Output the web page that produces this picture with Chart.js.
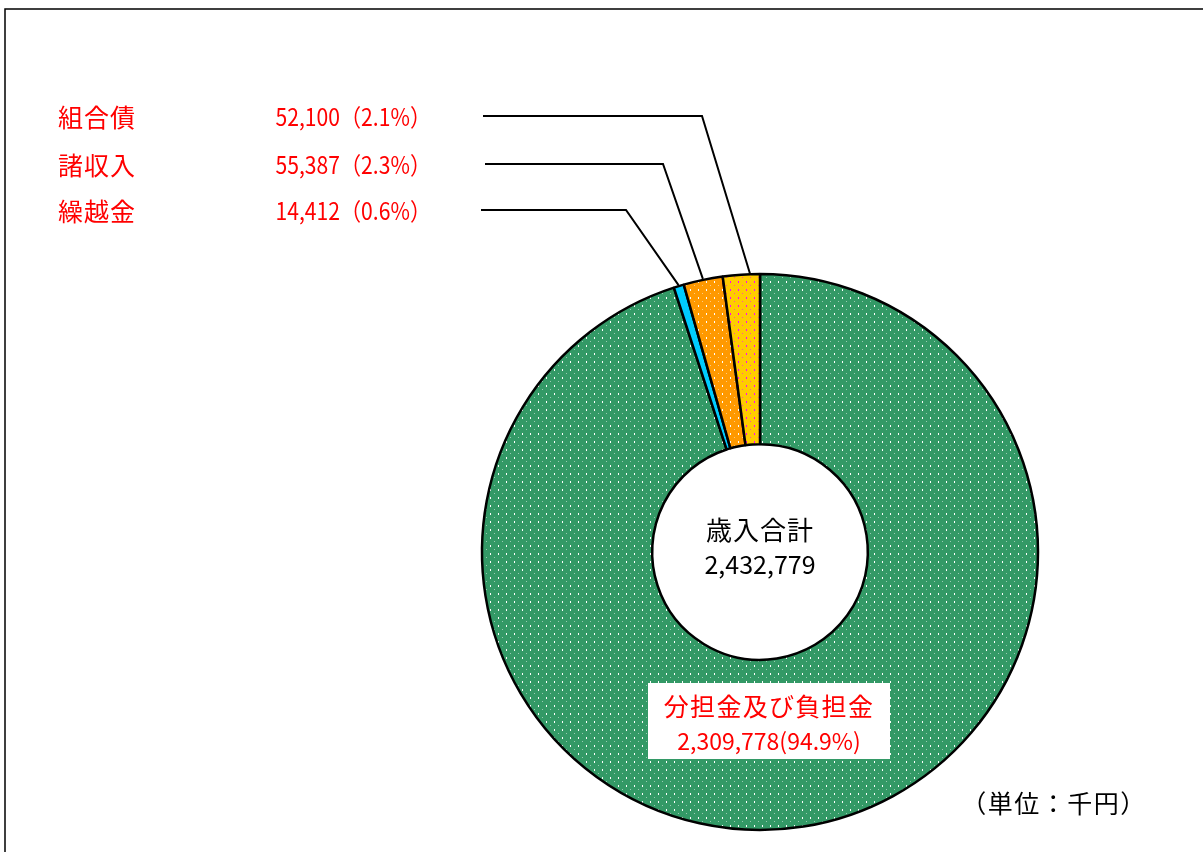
<!DOCTYPE html>
<html>
<head>
<meta charset="utf-8">
<script src="https://cdn.jsdelivr.net/npm/chart.js@4"></script>
<style>
  body { margin: 0; background: #fff; }
  canvas { display: block; }
</style>
</head>
<body>
<canvas id="revenueChart" width="1203" height="852"></canvas>
<script>
// data (千円)
const categories = ["分担金及び負担金", "繰越金", "諸収入", "組合債"];
const amounts = [2309778, 14412, 55387, 52100];
const shares = ["94.9", "0.6", "2.3", "2.1"];
const totalLabel = "歳入合計";
const totalAmount = 2432779;
const unitLabel = "（単位：千円）";

const JP = '"Noto Sans CJK JP", "Noto Sans", sans-serif';

const canvas = document.getElementById("revenueChart");
const ctx = canvas.getContext("2d");

// small dotted fills like the original spreadsheet patterns
const makePattern = (bg, dot, faint) => {
  const tile = document.createElement("canvas");
  tile.width = 8;
  tile.height = 8;
  const g = tile.getContext("2d");
  g.fillStyle = bg;
  g.fillRect(0, 0, 8, 8);
  if (dot) {
    g.fillStyle = dot;
    g.fillRect(2, 1, 1, 2);
    g.globalAlpha = faint;
    g.fillRect(6, 5, 1, 1);
  }
  return ctx.createPattern(tile, "repeat");
};

const fills = [
  makePattern("#339966", "#ffffff", 0.5),
  makePattern("#00ccff", null, 0),
  makePattern("#ff9900", "#ffffff", 0.5),
  makePattern("#ffcc00", "#ff00ff", 0.6)
];

const fmt = n => n.toLocaleString("en-US");

// compressed text helper (original uses a narrow gothic)
const drawText = (text, x, y, font, color, align, sx = 1, spacing = "0px") => {
  ctx.save();
  ctx.font = font;
  ctx.letterSpacing = spacing;
  ctx.fillStyle = color;
  ctx.textAlign = align;
  ctx.textBaseline = "middle";
  ctx.translate(x, y);
  ctx.scale(sx, 1);
  ctx.fillText(text, 0, 0);
  ctx.restore();
};

// leader lines for the three small slices
const leaders = [
  { idx: 3, y: 116, x0: 483, xe: 702, frac: 0.73 },
  { idx: 2, y: 164, x0: 485, xe: 663, frac: 0.5 },
  { idx: 1, y: 210, x0: 481, xe: 626, frac: 0.5 }
];

const labelsPlugin = {
  id: "labels",
  beforeDraw: chart => {
    const c = chart.ctx;
    // frame
    c.save();
    c.strokeStyle = "#000";
    c.lineWidth = 1.5;
    c.beginPath();
    c.moveTo(5, 852);
    c.lineTo(5, 9);
    c.lineTo(1203, 9);
    c.stroke();
    c.restore();
  },
  afterDraw: chart => {
    const c = chart.ctx;
    const meta = chart.getDatasetMeta(0);
    const cx = meta.data[0].x;
    const cy = meta.data[0].y;

    leaders.forEach(l => {
      const arc = meta.data[l.idx];
      const a = arc.startAngle + (arc.endAngle - arc.startAngle) * l.frac;
      const r = arc.outerRadius + 1;
      c.save();
      c.strokeStyle = "#000";
      c.lineWidth = 2;
      c.beginPath();
      c.moveTo(l.x0, l.y);
      c.lineTo(l.xe, l.y);
      c.lineTo(arc.x + Math.cos(a) * r, arc.y + Math.sin(a) * r);
      c.stroke();
      c.restore();

      drawText(categories[l.idx], 58, l.y + 1, `25px ${JP}`, "#ff0000", "left", 1, "1px");
      drawText(fmt(amounts[l.idx]) + "（" + shares[l.idx] + "%）", 431, l.y + 1,
        `24px ${JP}`, "#ff0000", "right", 0.88);
    });

    // centre total
    drawText(totalLabel, cx, cy - 22, `26px ${JP}`, "#000", "center", 1, "1px");
    drawText(fmt(totalAmount), cx, cy + 12, `25px ${JP}`, "#000", "center");

    // label box for the big slice
    c.save();
    c.fillStyle = "#fff";
    c.fillRect(648, 683, 242, 76);
    c.restore();
    drawText(categories[0], 769, 706, `25px ${JP}`, "#ff0000", "center", 1, "1.3px");
    drawText(fmt(amounts[0]) + "(" + shares[0] + "%)", 769, 741, `23px ${JP}`, "#ff0000", "center");

    // unit note
    drawText(unitLabel, 1054, 803, `25px ${JP}`, "#000", "center", 1, "1.5px");
  }
};

new Chart(ctx, {
  type: "doughnut",
  data: {
    labels: categories,
    datasets: [{
      data: amounts,
      backgroundColor: fills,
      borderColor: "#000",
      borderWidth: 2.5
    }]
  },
  options: {
    responsive: false,
    animation: false,
    devicePixelRatio: 1,
    radius: 278,
    cutout: 112,
    layout: { padding: { left: 400, right: 83, top: 262, bottom: 10 } },
    plugins: {
      legend: { display: false },
      tooltip: { enabled: false }
    }
  },
  plugins: [labelsPlugin]
});
</script>
</body>
</html>
